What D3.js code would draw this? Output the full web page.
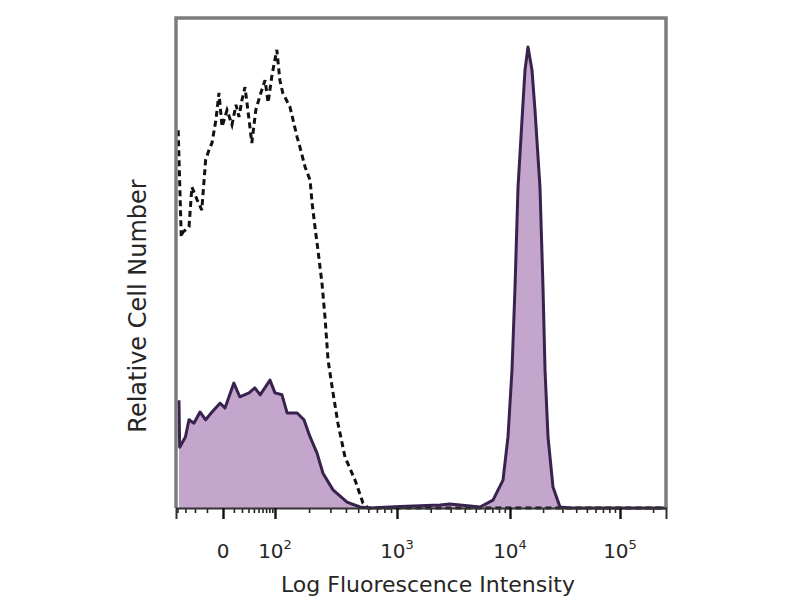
<!DOCTYPE html>
<html>
<head>
<meta charset="utf-8">
<script src="https://cdn.jsdelivr.net/npm/d3@7"></script>
<style>
  body { margin: 0; background: #fff; }
  svg text { font-family: "DejaVu Sans", sans-serif; fill: #262626; }
</style>
</head>
<body>
<script>
// unstained / isotype control (dashed), x = fluorescence, y = % of max
const controlX = [-39, -35, -33, -26, -23, -18, -14, -11, -8.5, -6.5, -4, -2.2, -0.5,
  3.3, 8, 12.4, 16, 20, 24.4, 31, 36, 44, 54, 67, 76, 89, 104, 111, 118, 137, 158, 167,
  185, 204, 212, 224, 237, 256, 271, 287, 315, 345, 393, 472, 545, 597, 262144];
const controlY = [77.1, 55.3, 56.3, 57.4, 65.5, 62.9, 60.8, 71.0, 73.1, 74.5, 79.2, 84.7, 77.8,
  81.2, 78.2, 82.3, 79.8, 83.3, 85.9, 79.2, 74.5, 81.2, 84.3, 87.3, 82.7, 88.4, 93.5, 87.3, 84.7,
  81.8, 75.7, 73.7, 69.6, 66.9, 62.2, 57.4, 52.7, 45.9, 39.0, 30.2, 23.5, 17.3, 10.4, 5.7, 1.0, 0, 0];

// stained sample (filled purple)
const stainedX = [-38, -37, -30, -26, -21, -15.5, -11, -6.5, -1.6, 1.6, 10, 17, 31, 42, 54, 82,
  100, 116, 129, 158, 181, 204, 233, 261, 315, 408, 516, 619, 1065, 2420, 2960, 4450, 5450,
  7090, 8680, 9600, 10430, 11110, 11830, 12860, 13700, 14580, 15850, 16880, 18740, 19960,
  20820, 22170, 24600, 28490, 35130, 262144];
const stainedY = [22.0, 12.4, 14.5, 18.0, 17.3, 19.6, 18.0, 19.6, 21.4, 20.4, 25.5, 22.7, 23.5,
  24.5, 23.1, 26.1, 23.5, 23.1, 19.4, 19.4, 18.0, 14.5, 11.2, 7.1, 3.7, 1.2, 0.2, 0, 0.3, 0.6,
  0.8, 0.4, 0.2, 1.6, 5.7, 14.5, 28.2, 45.1, 65.5, 79.2, 89.4, 94.1, 89.4, 81.2, 65.5, 45.1,
  28.2, 14.5, 4.3, 0.2, 0, 0];

const majorTicks = [0, 100, 1000, 10000, 100000];
const majorBase = ["0", "10", "10", "10", "10"];
const majorExp = ["", "2", "3", "4", "5"];
const minorTicks = [-40, -30, -20, -10, 10, 20, 30, 40, 50, 60, 70, 80, 90,
  200, 300, 400, 500, 600, 700, 800, 900,
  2000, 3000, 4000, 5000, 6000, 7000, 8000, 9000,
  20000, 30000, 40000, 50000, 60000, 70000, 80000, 90000, 200000];

const xTitle = "Log Fluorescence Intensity";
const yTitle = "Relative Cell Number";

// logicle-like display: symlog, pinned at the decade marks
const xBreaks = [-42, 0, 100, 1000, 10000, 100000, 262144];
const xBreakPos = [0, 47, 99, 221, 334, 444, 490];

var border = { left: 176, top: 18 };
var width = 490, height = 490;

var svg = d3.select("body").append("svg")
  .attr("width", 800)
  .attr("height", 600);

var g = svg.append("g")
  .attr("transform", "translate(" + border.left + "," + border.top + ")");

var x = d3.scaleSymlog().constant(25)
  .domain(xBreaks)
  .range(xBreakPos);

var y = d3.scaleLinear()
  .domain([0, 100])
  .range([height, 0]);

var control = controlX.map((d, i) => ({ x: d, y: controlY[i] }));
var stained = stainedX.map((d, i) => ({ x: d, y: stainedY[i] }));

var area = d3.area()
  .x(d => x(d.x))
  .y0(y(0))
  .y1(d => y(d.y));

var line = d3.line()
  .x(d => x(d.x))
  .y(d => y(d.y));

// filled histogram
g.append("path")
  .attr("d", area(stained))
  .attr("fill", "#c4a6cd")
  .attr("stroke", "none");

// dashed control
g.append("path")
  .attr("d", line(control))
  .attr("fill", "none")
  .attr("stroke", "#111")
  .attr("stroke-width", 3)
  .attr("stroke-dasharray", "6,4");

// outline of stained
g.append("path")
  .attr("d", line(stained))
  .attr("fill", "none")
  .attr("stroke", "#38234f")
  .attr("stroke-width", 3)
  .attr("stroke-linejoin", "round");

// frame
g.append("path")
  .attr("d", "M0," + height + "V0H" + width + "V" + height)
  .attr("fill", "none")
  .attr("stroke", "#7d7d7d")
  .attr("stroke-width", 3.5);

// axis
var minorAxis = d3.axisBottom(x).tickValues(minorTicks).tickSize(5).tickFormat("");
var majorAxis = d3.axisBottom(x).tickValues(majorTicks).tickSize(11).tickFormat("");

var gMinor = g.append("g")
  .attr("transform", "translate(0," + height + ")")
  .call(minorAxis);
gMinor.select(".domain").remove();
gMinor.selectAll(".tick line").attr("stroke", "#222").attr("stroke-width", 1.6);

var gMajor = g.append("g")
  .attr("transform", "translate(0," + height + ")")
  .call(majorAxis);
gMajor.select(".domain").attr("stroke", "#333").attr("stroke-width", 2);
gMajor.selectAll(".tick line").attr("stroke", "#111").attr("stroke-width", 2.4);

// tick labels with superscripts
var labels = g.append("g")
  .selectAll("text")
  .data(majorTicks)
  .enter().append("text")
  .attr("x", d => x(d))
  .attr("y", height + 50)
  .attr("text-anchor", "middle")
  .style("font-size", "20px");
labels.append("tspan").text((d, i) => majorBase[i]);
labels.append("tspan")
  .attr("dy", -9)
  .style("font-size", "13px")
  .text((d, i) => majorExp[i]);

// axis titles
svg.append("text")
  .attr("x", 428)
  .attr("y", 592)
  .attr("text-anchor", "middle")
  .style("font-size", "22px")
  .text(xTitle);

svg.append("text")
  .attr("transform", "rotate(-90)")
  .attr("x", -306)
  .attr("y", 146)
  .attr("text-anchor", "middle")
  .style("font-size", "24px")
  .text(yTitle);
</script>
</body>
</html>
